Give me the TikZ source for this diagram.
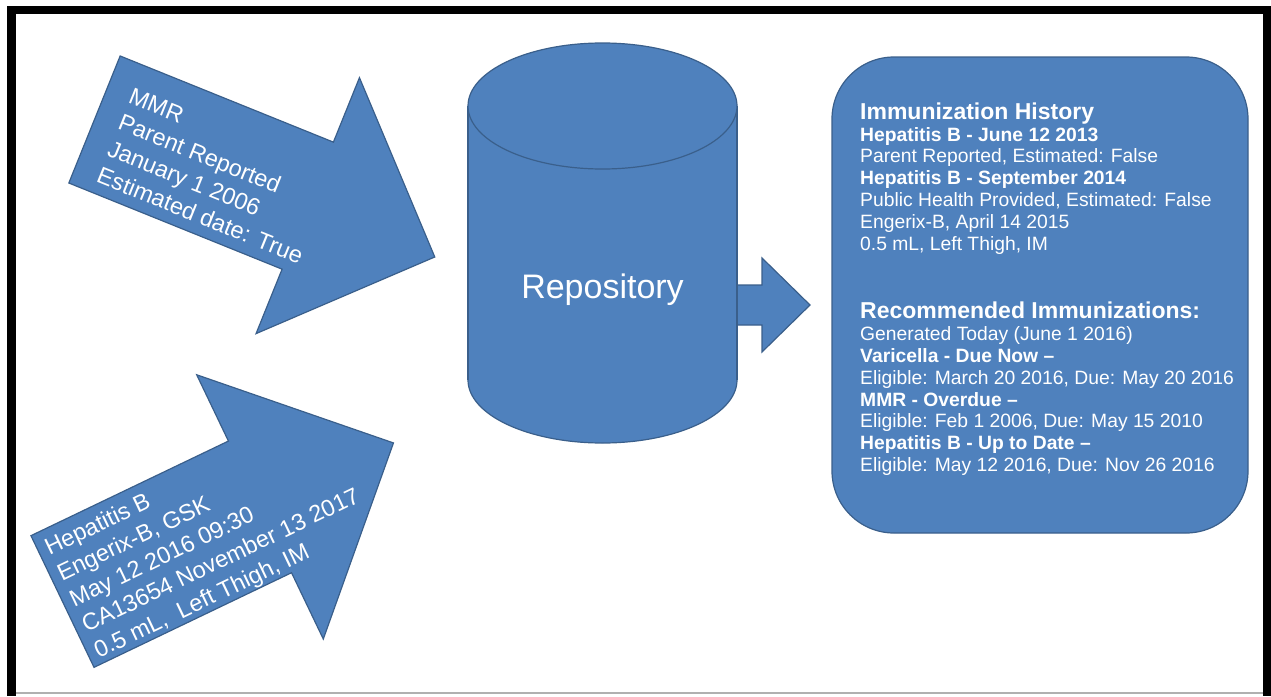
\documentclass[tikz,border=0pt]{standalone}
\usepackage{fontspec}
\setmainfont{Liberation Sans}
\definecolor{fillblue}{HTML}{4F81BD}
\definecolor{lineblue}{HTML}{3A5F8B}
\definecolor{framegray}{HTML}{B0B0B0}
\tikzset{
  blueshape/.style={fill=fillblue, draw=lineblue, line width=1.2pt, line join=miter},
  arrowtext/.style={text=white, align=left, inner sep=0pt, font=\fontsize{23.5}{28.5}\selectfont},
  boxtext/.style={text=white, align=left, inner sep=0pt, font=\fontsize{19.3}{21.8}\selectfont},
  repotext/.style={text=white, inner sep=0pt, font=\fontsize{34}{40}\selectfont},
}
\newcommand{\hdline}[1]{{\fontsize{23}{21.8}\selectfont\bfseries #1}}
\newcommand{\bdline}[1]{{\bfseries #1}}
\begin{document}
\begin{tikzpicture}[x=1pt,y=-1pt]
\useasboundingbox (0,0) rectangle (1271,696);
% frame
\fill[black] (7,6) rectangle (16,696);
\fill[black] (7,6) rectangle (1271,14);
\fill[black] (1263,6) rectangle (1271,696);
\draw[framegray, line width=1.5pt] (16,693) -- (1263,693);

% MMR arrow
\begin{scope}[shift={(94.5,119.5)}, rotate=-22, y=1pt]
  \draw[blueshape] (0,68.5) -- (230,68.5) -- (230,138) -- (367,0) -- (230,-138) -- (230,-68.5) -- (0,-68.5) -- cycle;
  \node[arrowtext, anchor=north west, rotate=-22] (mmr) at (24,44.5)
    {MMR\\Parent Reported\\January 1 2006\\Estimated date: True};
\end{scope}

% Hepatitis B arrow
\begin{scope}[shift={(62.5,601.5)}, rotate=25.6, y=1pt]
  \draw[blueshape] (0,73) -- (219,73) -- (219,146.5) -- (367,0) -- (219,-146.5) -- (219,-73) -- (0,-73) -- cycle;
  \node[arrowtext, anchor=north west, rotate=25.6] (hepb) at (8,64)
    {Hepatitis B\\Engerix-B, GSK\\May 12 2016 09:30\\CA13654 November 13 2017\\0.5 mL,\ \ Left Thigh, IM};
\end{scope}

% small arrow from repository to history box
\draw[blueshape] (737,285) -- (762,285) -- (762,258) -- (810,305) -- (762,352) -- (762,325) -- (737,325);

% cylinder (repository)
\filldraw[blueshape] (602.5,380) ellipse[x radius=134.5, y radius=63];
\fill[fillblue] (468,106) rectangle (737,380);
\draw[lineblue, line width=1.2pt] (468,106) -- (468,380) (737,106) -- (737,380);
\filldraw[blueshape] (602.5,106) ellipse[x radius=134.5, y radius=63];
\node[repotext] (repo) at (602.5,290) {Repository};

% history box
\node[blueshape, rounded corners=62pt, minimum width=416pt, minimum height=476pt, inner sep=0pt] (box) at (1040,295) {};
\node[boxtext, anchor=west] (hist) at (860,289) {%
\hdline{Immunization History}\\
\bdline{Hepatitis B - June 12 2013}\\
Parent Reported, Estimated: False\\
\bdline{Hepatitis B - September 2014}\\
Public Health Provided, Estimated: False\\
Engerix-B, April 14 2015\\
0.5 mL, Left Thigh, IM\\[47pt]
\hdline{Recommended Immunizations:}\\
Generated Today (June 1 2016)\\
\bdline{Varicella - Due Now –}\\
Eligible: March 20 2016, Due: May 20 2016\\
\bdline{MMR - Overdue –}\\
Eligible: Feb 1 2006, Due: May 15 2010\\
\bdline{Hepatitis B - Up to Date –}\\
Eligible: May 12 2016, Due: Nov 26 2016};
\end{tikzpicture}
\end{document}
